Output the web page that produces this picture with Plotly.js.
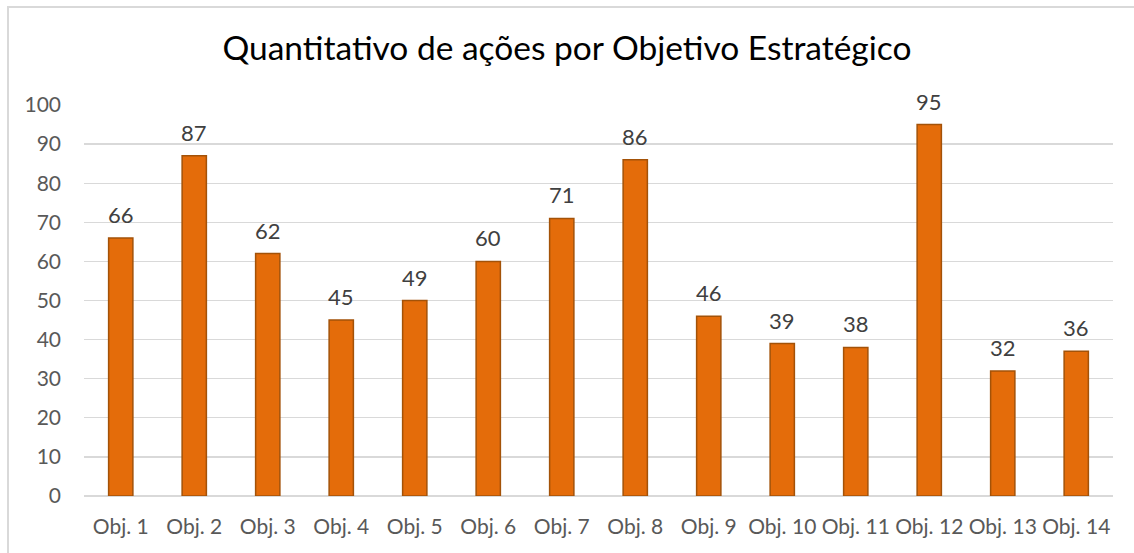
<!DOCTYPE html>
<html><head><meta charset="utf-8">
<script src="https://cdn.plot.ly/plotly-3.0.1.min.js"></script>
<style>html,body{margin:0;padding:0;background:#fff}#chart{width:1134px;height:553px}
#frame{position:absolute;left:7px;top:6px;width:1200px;height:600px;border:2px solid #d9d9d9;pointer-events:none}</style>
</head><body>
<div id="frame"></div>
<div id="chart"></div>
<script>
const categories = ["Obj. 1","Obj. 2","Obj. 3","Obj. 4","Obj. 5","Obj. 6","Obj. 7","Obj. 8","Obj. 9","Obj. 10","Obj. 11","Obj. 12","Obj. 13","Obj. 14"];
const barValues = [66,87,62,45,50,60,71,86,46,39,38,95,32,37];
const labelTexts = ["66","87","62","45","49","60","71","86","46","39","38","95","32","36"];
const yTicks = [0,10,20,30,40,50,60,70,80,90,100];

const font = "Lato, 'Open Sans', sans-serif";
const trace = {
  type: 'bar', x: categories, y: barValues,
  marker: {color: '#E46C0A', line: {color: '#A35208', width: 1.5}},
  hoverinfo: 'none'
};
const annotations = categories.map((c, i) => ({
  x: c, y: barValues[i], text: labelTexts[i], showarrow: false,
  xanchor: 'center', yanchor: 'bottom', yshift: 8,
  font: {family: font, size: 22, color: '#404040'}
}));
const layout = {
  width: 1134, height: 553,
  margin: {l: 84, r: 21, t: 105, b: 57},
  paper_bgcolor: 'rgba(0,0,0,0)', plot_bgcolor: 'rgba(0,0,0,0)',
  title: {text: 'Quantitativo de ações por Objetivo Estratégico', x: 0.5, xanchor: 'center', y: 0.912, yanchor: 'middle',
          font: {family: font, size: 33.5, color: '#000000'}},
  bargap: 0.67,
  showlegend: false,
  xaxis: {type: 'category', showgrid: false, zeroline: false, showline: false, ticks: '',
          tickfont: {family: font, size: 21, color: '#595959'}, ticklabelstandoff: 16, fixedrange: true},
  yaxis: {range: [0, 100], tickvals: yTicks, ticktext: yTicks.map(String), showgrid: true, gridcolor: '#d9d9d9', gridwidth: 1.3,
          zeroline: true, zerolinecolor: '#d9d9d9', zerolinewidth: 1.3, showline: false, ticks: '',
          tickfont: {family: font, size: 21, color: '#595959'}, ticklabelstandoff: 22, fixedrange: true},
  annotations: annotations
};
Plotly.newPlot('chart', [trace], layout, {displayModeBar: false, staticPlot: true});
</script>
</body></html>
